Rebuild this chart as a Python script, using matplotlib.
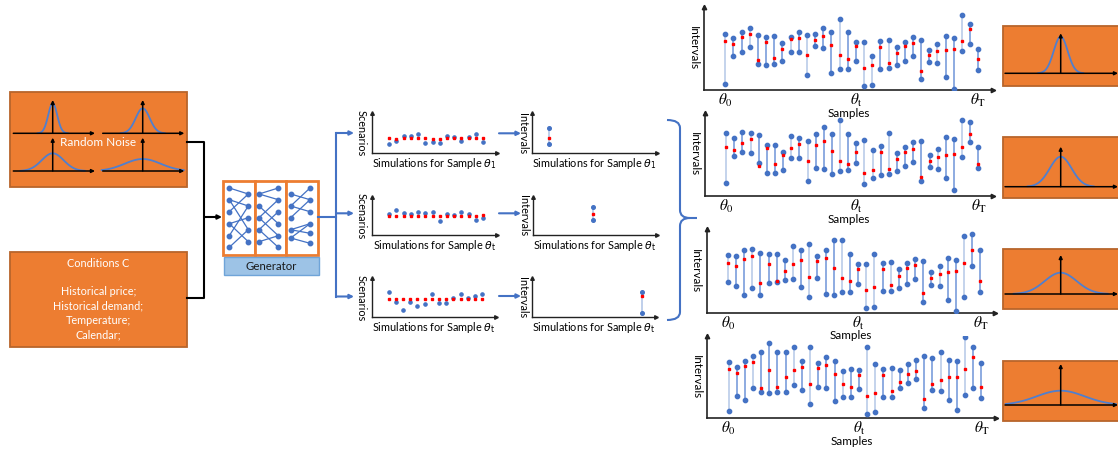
import numpy as np
import matplotlib.pyplot as plt
from matplotlib.patches import Rectangle, PathPatch
from matplotlib.path import Path

W, H = 1118, 450
ORANGE = "#ED7D31"
ORANGE_EDGE = "#B8652B"
BLUE = "#4472C4"
CURVE = "#4F7FCF"
LIGHT = "#B4C7E7"
RED = "#FF0000"

plt.rcParams["font.family"] = ["Lato", "DejaVu Sans"]

# ---- interval panels (right): upper bound, red point, lower bound per sample
P1_TOP = [17.0, 15.6, 17.4, 18.8, 16.5, 16.1, 16.3, 14.3, 16.0, 17.4, 16.6, 16.8, 18.8, 17.4, 21.5, 17.5,
          14.5, 14.5, 10.1, 14.8, 15.0, 13.0, 14.6, 16.1, 15.2, 12.1, 14.0, 16.2, 15.6, 22.7, 19.9, 12.4]
P1_MID = [14.8, 13.8, 16.0, 17.0, 9.0, 14.4, 9.5, 12.3, 15.5, 15.6, 10.5, 15.2, 16.3, 13.5, 10.4, 9.3,
          13.2, 6.7, 7.6, 13.1, 8.2, 11.0, 13.3, 14.3, 5.8, 10.5, 11.6, 12.1, 12.4, 14.7, 18.5, 9.4]
P1_LOW = [1.9, 10.1, 11.5, 12.9, 7.8, 7.6, 7.8, 8.6, 11.4, 11.4, 4.5, 13.2, 12.8, 5.2, 6.2, 6.3,
          8.6, 1.3, 1.6, 6.3, 6.5, 7.4, 8.8, 10.1, 3.2, 8.5, 8.1, 3.8, 0.4, 11.7, 14.0, 6.1]

P2_TOP = [19.1, 17.6, 19.4, 18.9, 18.4, 15.3, 15.5, 13.4, 18.0, 17.5, 16.7, 18.8, 20.8, 18.8, 22.9, 18.8,
          16.1, 16.9, 13.8, 15.0, 19.1, 13.0, 14.8, 16.2, 16.7, 12.3, 14.1, 17.7, 17.1, 22.8, 22.2, 14.8]
P2_MID = [14.9, 13.8, 16.1, 17.1, 9.0, 14.5, 9.6, 12.5, 14.6, 15.6, 10.6, 15.4, 16.5, 13.5, 10.5, 9.5,
          13.2, 6.9, 7.7, 13.2, 8.2, 11.1, 13.3, 14.3, 5.8, 10.6, 11.7, 12.3, 12.6, 14.8, 18.6, 9.6]
P2_LOW = [3.9, 12.0, 13.4, 13.0, 9.8, 6.8, 7.0, 7.7, 11.5, 11.5, 4.6, 8.5, 8.0, 6.7, 7.6, 7.7,
          9.9, 3.7, 5.3, 6.4, 6.7, 7.5, 8.9, 10.3, 4.6, 8.6, 8.1, 5.3, 1.9, 11.8, 16.3, 8.4]

P3_TOP = [17.2, 17.0, 18.8, 18.9, 17.7, 17.4, 17.6, 15.6, 20.0, 18.8, 20.6, 16.9, 18.8, 21.6, 21.6, 17.5,
          14.6, 14.6, 17.4, 14.9, 15.0, 13.0, 14.8, 16.1, 15.3, 12.1, 14.0, 16.2, 15.8, 22.8, 23.4, 18.7]
P3_MID = [14.9, 13.8, 16.1, 17.0, 8.9, 14.4, 9.5, 12.4, 14.6, 15.6, 10.6, 15.3, 16.3, 13.5, 10.4, 9.5,
          13.2, 6.8, 7.6, 13.2, 8.2, 11.1, 13.3, 14.3, 5.8, 10.5, 11.6, 12.2, 12.6, 14.7, 18.6, 9.6]
P3_LOW = [9.3, 8.0, 5.2, 7.5, 5.2, 8.9, 9.1, 9.9, 10.2, 7.8, 4.7, 10.3, 5.5, 5.2, 6.3, 6.3,
          8.6, 1.4, 1.7, 6.4, 6.6, 7.5, 8.7, 10.2, 3.2, 8.3, 8.1, 3.9, 0.4, 4.6, 14.0, 6.1]

P4_TOP = [17.2, 15.7, 17.5, 18.8, 20.1, 22.8, 20.2, 20.2, 21.5, 17.5, 21.5, 16.9, 18.7, 17.5, 14.4, 14.9,
          14.7, 21.5, 16.5, 14.9, 15.1, 14.7, 16.5, 17.7, 18.8, 18.3, 20.0, 17.8, 17.4, 24.6, 21.7, 16.9]
P4_MID = [14.9, 13.8, 15.9, 17.1, 9.0, 14.5, 9.5, 12.4, 14.6, 15.5, 10.5, 15.3, 16.3, 13.5, 10.4, 9.4,
          13.2, 6.8, 7.6, 13.0, 8.2, 11.1, 13.3, 14.3, 5.9, 10.5, 11.7, 12.5, 12.6, 14.8, 18.6, 9.6]
P4_LOW = [2.0, 6.8, 5.6, 9.2, 7.9, 7.7, 7.8, 7.9, 10.0, 8.6, 4.4, 9.4, 9.2, 5.2, 6.4, 6.4,
          8.7, 1.3, 1.7, 6.4, 6.5, 9.1, 10.6, 12.0, 3.2, 8.4, 8.2, 5.6, 2.3, 6.9, 9.1, 6.2]

# samples whose interval line is drawn pale
PALE = [0, 3, 8, 10, 14, 17, 18, 20, 26, 29]

# ---- scenario plots (middle): red point and blue scenario per simulation
S1_RED = [4.5, 4.3, 4.5, 4.5, 4.5, 4.5, 4.2, 4.2, 4.5, 4.5, 4.5, 4.6, 4.5, 4.5]
S1_BLUE = [2.7, 3.6, 5.3, 5.3, 5.6, 3.2, 3.4, 3.2, 5.2, 4.9, 3.6, 4.9, 5.6, 3.4]
S2_RED = [5.8, 5.8, 5.8, 5.8, 5.8, 5.8, 5.8, 5.8, 5.8, 5.8, 5.8, 5.8, 5.8, 5.9]
S2_BLUE = [6.4, 7.4, 6.5, 6.4, 6.9, 6.7, 6.9, 4.3, 6.4, 6.1, 6.8, 6.2, 4.4, 5.1]
S3_RED = [5.5, 5.5, 5.5, 5.5, 5.5, 5.5, 5.5, 5.5, 5.5, 5.5, 5.5, 5.5, 5.5, 5.5]
S3_BLUE = [7.6, 4.7, 2.2, 4.7, 3.3, 4.1, 7.0, 4.3, 4.3, 5.7, 6.9, 5.7, 6.5, 6.9]

# ---- single-sample interval plots: position, upper, mid, lower
I_POS = [0.137, 0.49, 0.885]
I_TOP = [7.5, 8.5, 7.5]
I_MID = [4.5, 6.2, 6.3]
I_LOW = [2.7, 4.5, 1.4]
I_LABELS = [r"$\theta_1$", r"$\theta_\mathrm{t}$", r"$\theta_\mathrm{t}$"]

# ---- distribution sketches: spread and peak height
NOISE_SIGMA = [4.5, 7.0, 11.0, 18.0]
NOISE_PEAK = [30.0, 25.0, 17.7, 12.0]
OUT_SIGMA = [7.0, 11.0, 16.0, 24.0]
OUT_PEAK = [36.7, 30.0, 21.3, 14.3]

CONDITIONS = ["Conditions C", "", "Historical price;", "Historical demand;", "Temperature;", "Calendar;"]

fig = plt.figure(figsize=(W / 100, H / 100), dpi=100)
canvas = fig.add_axes([0, 0, 1, 1])
canvas.set_xlim(0, W)
canvas.set_ylim(H, 0)
canvas.axis("off")


def px_axes(left, top, right, bottom):
    return fig.add_axes([left / W, 1 - bottom / H, (right - left) / W, (bottom - top) / H])


def arrow_axes(ax, lw=1.0, ms=3):
    for side in ("top", "right"):
        ax.spines[side].set_visible(False)
    for side in ("left", "bottom"):
        ax.spines[side].set_linewidth(lw)
        ax.spines[side].set_color("#222222")
    ax.plot(1, 0, ">", color="#222222", ms=ms, transform=ax.transAxes, clip_on=False)
    ax.plot(0, 1, "^", color="#222222", ms=ms, transform=ax.transAxes, clip_on=False)
    ax.patch.set_visible(False)
    ax.tick_params(length=0)
    ax.set_yticks([])


def arrow(x0, y0, x1, y1, color, lw=1.4, scale=7):
    canvas.annotate("", xy=(x1, y1), xytext=(x0, y0),
                    arrowprops=dict(arrowstyle="-|>", color=color, lw=lw,
                                    mutation_scale=scale, shrinkA=0, shrinkB=0))


def sketch(cx, base, x0, x1, vtop, sigma, peak, half):
    arrow(x0, base, x1, base, "black", lw=1.1, scale=5)
    arrow(cx, base, cx, vtop, "black", lw=1.1, scale=5)
    xs = np.linspace(cx - half, cx + half, 120)
    canvas.plot(xs, base - peak * np.exp(-0.5 * ((xs - cx) / sigma) ** 2), color=CURVE, lw=1.3)


def box(x0, y0, x1, y1):
    canvas.add_patch(Rectangle((x0, y0), x1 - x0, y1 - y0, facecolor=ORANGE,
                               edgecolor=ORANGE_EDGE, lw=1.3))


# ---- left: noise and condition boxes
box(10, 92, 187, 187)
noise_layout = [(52.7, 133.3, 13.3, 95, 100, 15), (142.7, 133.3, 102.7, 184.3, 100, 22),
                (52.7, 171, 13.3, 95, 137.7, 32), (142.7, 171, 102.7, 184.3, 137.7, 41)]
for (cx, base, x0, x1, vtop, half), s, p in zip(noise_layout, NOISE_SIGMA, NOISE_PEAK):
    sketch(cx, base, x0, x1, vtop, s, p, half)
canvas.text(98, 142, "Random Noise", color="white", fontsize=8.5, ha="center", va="center")

box(10, 252, 187, 347)
for i, line in enumerate(CONDITIONS):
    canvas.text(98.5, 263.5 + i * 14.2, line, color="white", fontsize=7.8, ha="center", va="center")

canvas.plot([187, 204, 204, 187], [141.7, 141.7, 298.3, 298.3], color="black", lw=1.5)
arrow(204, 217, 222, 217, "black", lw=1.5, scale=6)

# ---- generator
for x0, x1 in [(223, 254.5), (254.5, 286), (286, 317.5)]:
    canvas.add_patch(Rectangle((x0, 181), x1 - x0, 74, facecolor="white", edgecolor=ORANGE, lw=2))
canvas.add_patch(Rectangle((223.5, 256.5), 95, 18.5, facecolor="#9DC3E6", edgecolor="#6FA4D8", lw=1))
canvas.text(271, 266, "Generator", fontsize=8.2, ha="center", va="center", color="#1A1A1A")

six = [188, 199.7, 211.7, 223.7, 235.7, 247.3]
five = [194, 206, 217.7, 229.7, 241.7]
net = [
    (229.3, six, 248.3, five, [(0, 0), (1, 1), (1, 3), (2, 0), (3, 2), (3, 4), (4, 1), (5, 3)]),
    (259.0, five, 278.3, six, [(0, 0), (0, 1), (1, 3), (2, 1), (2, 4), (3, 2), (3, 5), (4, 4)]),
    (290.7, [194, 206, 217.7, 229.7, 238], 310.0, [188, 199.7, 211.7, 223.7, 233.3, 243.3],
     [(0, 1), (1, 0), (1, 2), (2, 1), (3, 4), (3, 3), (4, 3), (4, 5)]),
]
for xl, yl, xr, yr, edges in net:
    for a, b in edges:
        canvas.plot([xl, xr], [yl[a], yr[b]], color=BLUE, lw=0.9)
    canvas.plot([xl] * len(yl), yl, "o", color=BLUE, ms=3.2)
    canvas.plot([xr] * len(yr), yr, "o", color=BLUE, ms=3.2)

# ---- branching arrows
canvas.plot([317.5, 336], [217, 217], color=BLUE, lw=1.5)
canvas.plot([336, 336], [133, 296.5], color=BLUE, lw=1.5)
for y in (133, 213.3, 296.5):
    arrow(336, y, 354, y, BLUE, lw=1.5, scale=6)
for y in (133.3, 213.3, 296):
    arrow(499, y, 521, y, BLUE, lw=1.5, scale=6)

# ---- scenario plots and single-sample intervals
rows = [
    ((372.3, 113, 496.7, 153.3), (532.3, 113.3, 656.7, 153.3), 12.0, S1_RED, S1_BLUE),
    ((372.3, 196.7, 496.7, 235), (532.7, 196.7, 656.7, 235), 11.5, S2_RED, S2_BLUE),
    ((371.7, 278.3, 496, 317.3), (531.7, 278.3, 656, 317.3), 11.7, S3_RED, S3_BLUE),
]
for k, (spos, ipos, ymax, red, blue) in enumerate(rows):
    ax = px_axes(*spos)
    arrow_axes(ax, lw=1.0, ms=2.6)
    sims = np.arange(len(red))
    ax.plot(sims, blue, "o", color=BLUE, ms=2.3, zorder=3)
    ax.plot(sims, red, "s", color=RED, ms=1.8, zorder=3)
    ax.set_xlim(-2.35, 14.9)
    ax.set_ylim(0, ymax)
    ax.set_xticks([])
    ax.set_xlabel("Simulations for Sample " + I_LABELS[k], fontsize=7.8, labelpad=2,
                  math_fontfamily="dejavusans")
    ax.set_ylabel("Scenarios", fontsize=7.8, rotation=270, va="top", labelpad=4)

    ax = px_axes(*ipos)
    arrow_axes(ax, lw=1.0, ms=2.6)
    ax.vlines(I_POS[k], I_LOW[k], I_TOP[k], color=LIGHT, lw=1.2)
    ax.plot([I_POS[k], I_POS[k]], [I_LOW[k], I_TOP[k]], "o", color=BLUE, ms=2.6)
    ax.plot(I_POS[k], I_MID[k], "s", color=RED, ms=1.8)
    ax.set_xlim(0, 1)
    ax.set_ylim(0, ymax)
    ax.set_xticks([])
    ax.set_xlabel("Simulations for Sample " + I_LABELS[k], fontsize=7.8, labelpad=2,
                  math_fontfamily="dejavusans")
    ax.set_ylabel("Intervals", fontsize=7.8, rotation=270, va="top", labelpad=3)

# ---- curly brace gathering the intervals
verts = [(667, 120), (680, 120), (680, 128), (680, 210), (680, 218), (690, 218), (697, 218),
         (690, 218), (680, 218), (680, 226), (680, 312), (680, 320), (667, 320)]
codes = [Path.MOVETO, Path.CURVE3, Path.CURVE3, Path.LINETO, Path.CURVE3, Path.CURVE3, Path.LINETO,
         Path.MOVETO, Path.CURVE3, Path.CURVE3, Path.LINETO, Path.CURVE3, Path.CURVE3]
canvas.add_patch(PathPatch(Path(verts, codes), facecolor="none", edgecolor=BLUE, lw=1.5))

# ---- interval panels over all samples
panels = [
    ((704, 7, 993, 90), P1_TOP, P1_MID, P1_LOW),
    ((705, 113, 993, 196), P2_TOP, P2_MID, P2_LOW),
    ((706.7, 229, 995, 312.7), P3_TOP, P3_MID, P3_LOW),
    ((707.3, 336, 996, 418), P4_TOP, P4_MID, P4_LOW),
]
for pos, top, mid, low in panels:
    ax = px_axes(*pos)
    arrow_axes(ax, lw=1.2, ms=3.2)
    samples = np.arange(len(top))
    colors = [LIGHT if i in PALE else "#6F95D8" for i in samples]
    ax.vlines(samples, low, top, colors=colors, lw=1.1)
    ax.plot(samples, top, "o", color=BLUE, ms=3.1, zorder=3)
    ax.plot(samples, low, "o", color=BLUE, ms=3.1, zorder=3)
    ax.plot(samples, mid, "s", color=RED, ms=1.9, zorder=4)
    ax.set_xlim(-2.6, 32.8)
    ax.set_ylim(0, 25)
    ax.set_xticks([0, 16, 31])
    ax.set_xticklabels([r"$\theta_0$", r"$\theta_\mathrm{t}$", r"$\theta_\mathrm{T}$"],
                       fontsize=11, math_fontfamily="stix")
    ax.tick_params(axis="x", pad=1.5)
    ax.set_xlabel("Samples", fontsize=8.4, labelpad=-1)
    ax.set_ylabel("Intervals", fontsize=8.4, rotation=270, va="top", labelpad=4)

# ---- output distributions
out_layout = [(26, 86, 73.3, 33.3, 22.5), (137.3, 197.7, 186.7, 146.7, 33),
              (249, 309, 294, 255, 47), (360.7, 420.7, 405, 364, 55)]
for (y0, y1, base, vtop, half), s, p in zip(out_layout, OUT_SIGMA, OUT_PEAK):
    box(1003.3, y0, 1119, y1)
    sketch(1060.7, base, 1005, 1118, vtop, s, p, half)

fig.savefig("out.png", dpi=100, facecolor="white")
